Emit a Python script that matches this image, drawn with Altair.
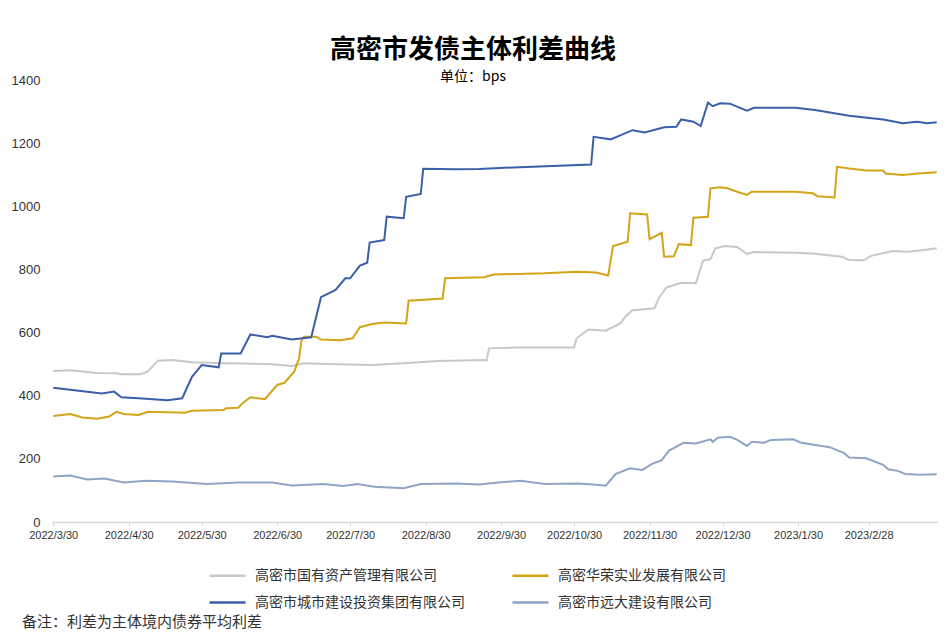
import altair as alt
import pandas as pd

TITLE = "高密市发债主体利差曲线"
SUBTITLE = "单位：bps"
NOTE = "备注：利差为主体境内债券平均利差"

SERIES = [
    "高密市国有资产管理有限公司",
    "高密华荣实业发展有限公司",
    "高密市城市建设投资集团有限公司",
    "高密市远大建设有限公司",
]
COLORS = ["#C8C8C8", "#D4A418", "#3B5FA8", "#8FA4C6"]

GRAY_DATES = ["2022-03-30", "2022-04-06", "2022-04-17", "2022-04-25", "2022-04-27", "2022-05-05",
              "2022-05-08", "2022-05-12", "2022-05-18", "2022-05-26", "2022-06-09", "2022-06-28",
              "2022-07-06", "2022-07-11", "2022-07-25", "2022-08-08", "2022-08-21", "2022-09-04",
              "2022-09-23", "2022-09-24", "2022-09-25", "2022-10-07", "2022-10-30", "2022-10-31",
              "2022-11-05", "2022-11-12", "2022-11-18", "2022-11-20", "2022-11-23", "2022-12-02",
              "2022-12-04", "2022-12-07", "2022-12-13", "2022-12-19", "2022-12-22", "2022-12-25",
              "2022-12-27", "2022-12-31", "2023-01-05", "2023-01-09", "2023-01-12", "2023-01-29",
              "2023-02-06", "2023-02-17", "2023-02-20", "2023-02-26", "2023-03-01", "2023-03-10",
              "2023-03-16", "2023-03-22", "2023-03-28"]
GRAY_VALUES = [478, 481, 472, 471, 468, 468,
               478, 511, 513, 506, 503, 500,
               494, 503, 500, 497, 503, 510,
               513, 511, 550, 553, 553, 582,
               610, 606, 629, 650, 671, 677,
               712, 743, 758, 756, 828, 832,
               867, 874, 871, 849, 855, 853,
               850, 840, 830, 829, 843, 858,
               856, 861, 867]

YELLOW_DATES = ["2022-03-30", "2022-04-06", "2022-04-11", "2022-04-17", "2022-04-22", "2022-04-25",
                "2022-04-28", "2022-05-04", "2022-05-08", "2022-05-23", "2022-05-26", "2022-06-08",
                "2022-06-09", "2022-06-14", "2022-06-16", "2022-06-19", "2022-06-25", "2022-06-30",
                "2022-07-03", "2022-07-07", "2022-07-09", "2022-07-10", "2022-07-11", "2022-07-16",
                "2022-07-18", "2022-07-26", "2022-07-31", "2022-08-03", "2022-08-08", "2022-08-13",
                "2022-08-22", "2022-08-23", "2022-09-06", "2022-09-07", "2022-09-23", "2022-09-27",
                "2022-10-18", "2022-10-31", "2022-11-08", "2022-11-13", "2022-11-15", "2022-11-21",
                "2022-11-22", "2022-11-29", "2022-11-30", "2022-12-05", "2022-12-06", "2022-12-10",
                "2022-12-12", "2022-12-17", "2022-12-18", "2022-12-24", "2022-12-25", "2022-12-29",
                "2023-01-01", "2023-01-05", "2023-01-09", "2023-01-11", "2023-01-29", "2023-02-05",
                "2023-02-07", "2023-02-14", "2023-02-15", "2023-02-20", "2023-02-27", "2023-03-06",
                "2023-03-07", "2023-03-14", "2023-03-20", "2023-03-28"]
YELLOW_VALUES = [336, 342, 331, 327, 334, 349,
                 342, 339, 349, 346, 352, 355,
                 360, 362, 378, 395, 389, 434,
                 441, 476, 518, 576, 587, 587,
                 578, 576, 582, 617, 627, 632,
                 629, 701, 708, 772, 775, 784,
                 788, 793, 790, 781, 874, 888,
                 978, 974, 896, 916, 840, 842,
                 880, 877, 964, 967, 1057, 1060,
                 1057, 1046, 1036, 1046, 1046, 1041,
                 1032, 1028, 1125, 1120, 1113, 1113,
                 1104, 1099, 1104, 1108]

BLUE_DATES = ["2022-03-30", "2022-04-19", "2022-04-24", "2022-04-27", "2022-05-04", "2022-05-16",
              "2022-05-22", "2022-05-26", "2022-05-30", "2022-06-06", "2022-06-07", "2022-06-15",
              "2022-06-19", "2022-06-26", "2022-06-28", "2022-07-06", "2022-07-14", "2022-07-18",
              "2022-07-24", "2022-07-28", "2022-07-30", "2022-08-03", "2022-08-06", "2022-08-07",
              "2022-08-13", "2022-08-14", "2022-08-21", "2022-08-22", "2022-08-28", "2022-08-29",
              "2022-09-11", "2022-09-21", "2022-10-05", "2022-11-06", "2022-11-07", "2022-11-14",
              "2022-11-23", "2022-11-28", "2022-12-06", "2022-12-11", "2022-12-13", "2022-12-18",
              "2022-12-21", "2022-12-24", "2022-12-26", "2022-12-29", "2023-01-02", "2023-01-09",
              "2023-01-12", "2023-01-29", "2023-02-06", "2023-02-20", "2023-03-06", "2023-03-14",
              "2023-03-20", "2023-03-24", "2023-03-28"]
BLUE_VALUES = [425, 407, 413, 395, 392, 386,
               392, 460, 497, 490, 534, 534,
               594, 585, 590, 578, 585, 712,
               735, 772, 772, 812, 821, 885,
               893, 967, 962, 1030, 1039, 1119,
               1117, 1118, 1123, 1132, 1220, 1212,
               1241, 1234, 1250, 1252, 1275, 1268,
               1254, 1328, 1317, 1326, 1325, 1303,
               1312, 1312, 1305, 1287, 1275, 1263,
               1268, 1263, 1266]

LIGHT_DATES = ["2022-03-30", "2022-04-06", "2022-04-13", "2022-04-20", "2022-04-28", "2022-05-07",
               "2022-05-18", "2022-06-01", "2022-06-14", "2022-06-28", "2022-07-06", "2022-07-19",
               "2022-07-27", "2022-08-02", "2022-08-09", "2022-08-21", "2022-08-28", "2022-09-11",
               "2022-09-21", "2022-09-29", "2022-10-08", "2022-10-18", "2022-10-31", "2022-11-07",
               "2022-11-12", "2022-11-16", "2022-11-22", "2022-11-27", "2022-12-01", "2022-12-05",
               "2022-12-08", "2022-12-14", "2022-12-19", "2022-12-25", "2022-12-26", "2022-12-28",
               "2023-01-02", "2023-01-05", "2023-01-09", "2023-01-11", "2023-01-16", "2023-01-19",
               "2023-01-28", "2023-01-31", "2023-02-06", "2023-02-12", "2023-02-18", "2023-02-20",
               "2023-02-27", "2023-03-06", "2023-03-08", "2023-03-12", "2023-03-15", "2023-03-21",
               "2023-03-28"]
LIGHT_VALUES = [144, 147, 135, 138, 125, 131,
                128, 120, 125, 125, 116, 120,
                114, 120, 112, 107, 120, 122,
                119, 125, 131, 120, 122, 119,
                115, 152, 170, 165, 184, 196,
                226, 251, 249, 262, 254, 267,
                270, 260, 241, 254, 251, 260,
                262, 252, 244, 237, 218, 204,
                202, 181, 167, 162, 152, 150,
                151]

TICK_DATES = ["2022-03-30", "2022-04-30", "2022-05-30", "2022-06-30", "2022-07-30", "2022-08-30",
              "2022-09-30", "2022-10-30", "2022-11-30", "2022-12-30", "2023-01-30", "2023-02-28"]
Y_TICKS = [0, 200, 400, 600, 800, 1000, 1200, 1400]

CJK = "Noto Sans CJK SC"

rows = []
for name, dates, vals in zip(SERIES,
                             [GRAY_DATES, YELLOW_DATES, BLUE_DATES, LIGHT_DATES],
                             [GRAY_VALUES, YELLOW_VALUES, BLUE_VALUES, LIGHT_VALUES]):
    for d, v in zip(dates, vals):
        rows.append({"series": name, "date": d + "T00:00:00", "value": v})
df = pd.DataFrame(rows)


def dt(s, hours=0):
    y, m, d = (int(p) for p in s.split("-"))
    return alt.DateTime(year=y, month=m, date=d, hours=hours)


lines = alt.Chart(df).mark_line(strokeWidth=2).encode(
    x=alt.X(
        "date:T",
        scale=alt.Scale(domain=[dt("2022-03-29", 12), dt("2023-03-28", 12)]),
        axis=alt.Axis(
            values=[dt(s) for s in TICK_DATES],
            labelExpr="timeFormat(datum.value, '%Y/%-m/%-d')",
            labelFont="Liberation Sans",
            labelFontSize=11,
            labelColor="#333333",
            labelFlush=False,
            labelOverlap=False,
            labelPadding=3,
            domainColor="#D9D9D9",
            domainWidth=1.5,
            tickColor="#D9D9D9",
            tickSize=4,
            grid=False,
            title=None,
        ),
    ),
    y=alt.Y(
        "value:Q",
        scale=alt.Scale(domain=[0, 1400], nice=False),
        axis=alt.Axis(
            values=Y_TICKS,
            format="d",
            labelFont="Liberation Sans",
            labelFontSize=13,
            labelColor="#333333",
            labelPadding=12,
            domain=False,
            ticks=False,
            grid=False,
            title=None,
        ),
    ),
    color=alt.Color(
        "series:N",
        scale=alt.Scale(domain=SERIES, range=COLORS),
        legend=alt.Legend(
            title=None,
            orient="none",
            direction="horizontal",
            legendX=156,
            legendY=476,
            columns=2,
            columnPadding=42,
            rowPadding=-18,
            symbolType="stroke",
            symbolSize=1296,
            symbolStrokeWidth=2.5,
            labelFont=CJK,
            labelFontSize=14,
            labelColor="#333333",
            labelLimit=400,
            labelOffset=8,
        ),
    ),
    detail="series:N",
)

note = alt.Chart(pd.DataFrame({"t": [NOTE]})).mark_text(
    align="left", baseline="middle", font=CJK, fontSize=15, color="#333333"
).encode(x=alt.value(-30), y=alt.value(542), text="t:N")

chart = alt.layer(lines, note).properties(
    width=886,
    height=442,
    autosize=alt.AutoSizeParams(type="none"),
    padding={"left": 44, "top": 72, "right": 0, "bottom": 112},
    title=alt.TitleParams(
        text=TITLE,
        subtitle=SUBTITLE,
        anchor="middle",
        dx=-22,
        offset=-10,
        font=CJK,
        fontSize=26,
        fontWeight="bold",
        color="#000000",
        subtitleFont=CJK,
        subtitleFontSize=14,
        subtitleColor="#000000",
        subtitlePadding=7,
    ),
).configure_view(stroke=None)

chart.save("out.html", embed_options={"renderer": "svg", "actions": False})
